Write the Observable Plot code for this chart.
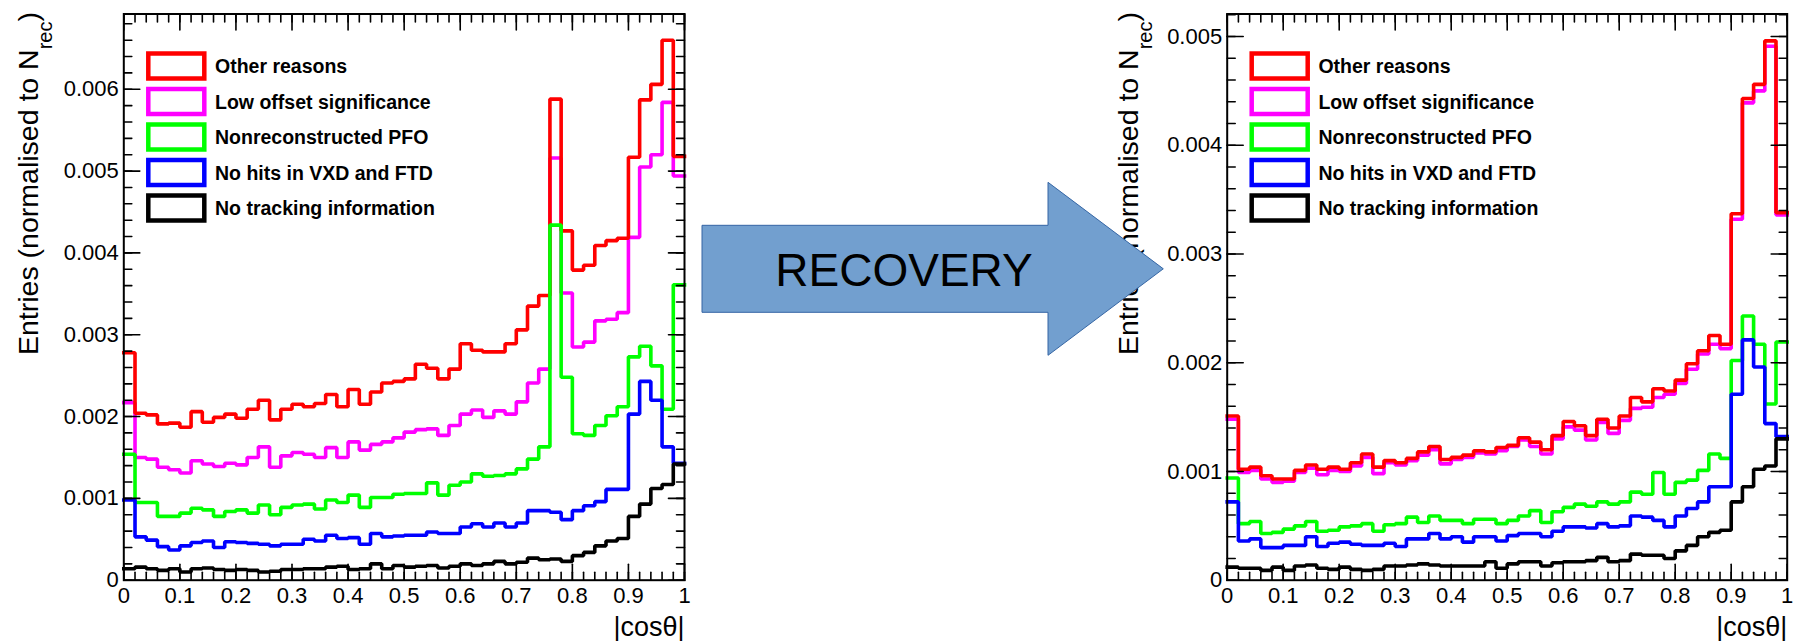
<!DOCTYPE html>
<html>
<head>
<meta charset="utf-8">
<script src="https://cdn.jsdelivr.net/npm/d3@7"></script>
<script src="https://cdn.jsdelivr.net/npm/@observablehq/plot@0.6"></script>
<style>
  html, body { margin: 0; padding: 0; background: #fff; }
  #page { position: relative; width: 1793px; height: 641px; overflow: hidden;
          font-family: "Liberation Sans", Arial, Helvetica, sans-serif; }
  .panel { position: absolute; top: 0; }
  #overlay { position: absolute; left: 0; top: 0; pointer-events: none; }
</style>
</head>
<body>
<div id="page">
  <div class="panel" id="before" style="left:0px"></div>
  <div class="panel" id="after" style="left:1100px"></div>
</div>
<script>
// |cosθ| binning: 50 bins of width 0.02
const binEdges = d3.range(51).map(i => i / 50);
const xTickValues = [0, 0.1, 0.2, 0.3, 0.4, 0.5, 0.6, 0.7, 0.8, 0.9, 1];

const seriesNames = ["Other reasons", "Low offset significance", "Nonreconstructed PFO",
                     "No hits in VXD and FTD", "No tracking information"];
const seriesColors = ["#ff0000", "#ff00ff", "#00ff00", "#0000ff", "#000000"];
// stacking order of the outlines (index into seriesNames)
const drawOrder = [1, 0, 2, 3, 4];

// ---- before recovery ----
const beforeOther = [0.00278,0.00204,0.00202,0.00191,0.00192,0.00187,0.00206,0.00193,0.00199,0.00203,
  0.00198,0.00209,0.00220,0.00196,0.00209,0.00215,0.00212,0.00216,0.00227,0.00212,
  0.00233,0.00215,0.00230,0.00241,0.00243,0.00246,0.00264,0.00259,0.00246,0.00258,
  0.00289,0.00281,0.00279,0.00279,0.00289,0.00306,0.00335,0.00348,0.00588,0.00427,
  0.00379,0.00385,0.00409,0.00415,0.00418,0.00517,0.00587,0.00606,0.00660,0.00518];
const beforeLowOffset = [0.00217,0.00150,0.00148,0.00138,0.00135,0.00131,0.00146,0.00142,0.00139,0.00143,
  0.00141,0.00150,0.00163,0.00138,0.00152,0.00156,0.00154,0.00150,0.00162,0.00150,
  0.00169,0.00159,0.00166,0.00169,0.00174,0.00181,0.00184,0.00185,0.00177,0.00189,
  0.00203,0.00208,0.00199,0.00207,0.00203,0.00218,0.00241,0.00258,0.00516,0.00351,
  0.00285,0.00291,0.00317,0.00319,0.00327,0.00419,0.00505,0.00520,0.00584,0.00494];
const beforeNonreco = [0.00154,0.00095,0.00095,0.00078,0.00078,0.00082,0.00088,0.00086,0.00078,0.00084,
  0.00086,0.00082,0.00092,0.00080,0.00089,0.00092,0.00093,0.00087,0.00098,0.00095,
  0.00104,0.00089,0.00101,0.00101,0.00105,0.00106,0.00106,0.00119,0.00104,0.00116,
  0.00120,0.00130,0.00127,0.00128,0.00130,0.00136,0.00148,0.00163,0.00434,0.00248,
  0.00179,0.00177,0.00189,0.00201,0.00212,0.00273,0.00286,0.00262,0.00209,0.00361];
const beforeNoHits = [0.00098,0.00053,0.00049,0.00041,0.00037,0.00042,0.00046,0.00048,0.00040,0.00047,
  0.00046,0.00045,0.00044,0.00042,0.00044,0.00044,0.00050,0.00048,0.00055,0.00051,
  0.00052,0.00044,0.00057,0.00053,0.00054,0.00055,0.00055,0.00059,0.00057,0.00057,
  0.00065,0.00069,0.00065,0.00070,0.00065,0.00070,0.00085,0.00085,0.00083,0.00074,
  0.00085,0.00091,0.00096,0.00111,0.00111,0.00203,0.00243,0.00220,0.00163,0.00143];
const beforeNoTrack = [0.00014,0.00016,0.00014,0.00012,0.00014,0.00010,0.00014,0.00015,0.00013,0.00012,
  0.00013,0.00012,0.00010,0.00011,0.00013,0.00013,0.00014,0.00014,0.00016,0.00017,
  0.00013,0.00014,0.00020,0.00014,0.00018,0.00016,0.00017,0.00018,0.00015,0.00017,
  0.00020,0.00018,0.00020,0.00023,0.00020,0.00022,0.00027,0.00025,0.00026,0.00023,
  0.00030,0.00034,0.00042,0.00048,0.00051,0.00078,0.00093,0.00112,0.00117,0.00142];

// ---- after recovery ----
const afterOther = [0.00151,0.00102,0.00104,0.00096,0.00093,0.00093,0.00101,0.00106,0.00102,0.00104,
  0.00102,0.00108,0.00116,0.00104,0.00110,0.00108,0.00112,0.00118,0.00123,0.00111,
  0.00113,0.00115,0.00119,0.00118,0.00122,0.00124,0.00131,0.00127,0.00120,0.00133,
  0.00146,0.00142,0.00133,0.00148,0.00140,0.00151,0.00168,0.00164,0.00176,0.00174,
  0.00184,0.00199,0.00211,0.00225,0.00217,0.00337,0.00443,0.00456,0.00496,0.00338];
const afterLowOffset = [0.00148,0.00099,0.00101,0.00093,0.00090,0.00091,0.00099,0.00103,0.00097,0.00101,
  0.00100,0.00105,0.00113,0.00098,0.00108,0.00106,0.00110,0.00115,0.00120,0.00107,
  0.00111,0.00113,0.00117,0.00116,0.00119,0.00123,0.00129,0.00123,0.00116,0.00130,
  0.00141,0.00138,0.00129,0.00145,0.00135,0.00147,0.00158,0.00159,0.00168,0.00171,
  0.00181,0.00194,0.00208,0.00217,0.00213,0.00332,0.00439,0.00450,0.00491,0.00336];
const afterNonreco = [0.00094,0.00052,0.00054,0.00043,0.00044,0.00047,0.00050,0.00054,0.00045,0.00046,
  0.00049,0.00050,0.00052,0.00045,0.00051,0.00052,0.00058,0.00053,0.00059,0.00055,
  0.00055,0.00052,0.00056,0.00056,0.00052,0.00055,0.00059,0.00064,0.00053,0.00063,
  0.00067,0.00070,0.00068,0.00072,0.00070,0.00072,0.00081,0.00079,0.00099,0.00079,
  0.00090,0.00092,0.00101,0.00116,0.00112,0.00202,0.00243,0.00217,0.00162,0.00219];
const afterNoHits = [0.00072,0.00036,0.00038,0.00030,0.00030,0.00032,0.00032,0.00040,0.00031,0.00034,
  0.00035,0.00033,0.00032,0.00032,0.00034,0.00031,0.00038,0.00038,0.00043,0.00038,
  0.00040,0.00035,0.00040,0.00040,0.00036,0.00041,0.00043,0.00043,0.00040,0.00045,
  0.00049,0.00049,0.00048,0.00052,0.00049,0.00050,0.00059,0.00058,0.00055,0.00049,
  0.00059,0.00066,0.00072,0.00086,0.00086,0.00171,0.00221,0.00196,0.00144,0.00132];
const afterNoTrack = [0.00012,0.00011,0.00011,0.00009,0.00012,0.00009,0.00013,0.00014,0.00011,0.00010,
  0.00012,0.00010,0.00009,0.00010,0.00013,0.00013,0.00014,0.00015,0.00014,0.00013,
  0.00013,0.00013,0.00013,0.00017,0.00011,0.00015,0.00017,0.00017,0.00013,0.00016,
  0.00017,0.00017,0.00018,0.00021,0.00017,0.00018,0.00024,0.00023,0.00023,0.00020,
  0.00027,0.00032,0.00040,0.00044,0.00046,0.00072,0.00086,0.00102,0.00105,0.00130];

// axis ranges and labelled ticks
const beforeYMax = 0.00692;
const afterYMax = 0.005207;
const beforeYTicks = [0, 0.001, 0.002, 0.003, 0.004, 0.005, 0.006];
const afterYTicks = [0, 0.001, 0.002, 0.003, 0.004, 0.005];
const yMinorStep = 0.0002;

const FONT = '"Liberation Sans", Arial, Helvetica, sans-serif';

// a plain stroke from the anchor point, used for inward frame ticks
const tickShape = { draw(context, l) { context.moveTo(0, 0); context.lineTo(0, -l); } };

// bin contents -> points at each lower edge, closed at |cosθ| = 1
function stepPoints(values) {
  return binEdges.map((e, i) => ({ x: e, y: values[Math.min(i, values.length - 1)] }));
}

function frameTicks(yMax) {
  const yMinor = d3.range(0, yMax, yMinorStep);
  const yMajor = d3.range(0, yMax, 0.001);
  const common = { anchor: "start", shape: tickShape, stroke: "black", strokeWidth: 1.6 };
  return [
    Plot.vector(yMinor, { ...common, x: 1e-9, y: d => d, length: 8, rotate: 90 }),
    Plot.vector(yMajor, { ...common, x: 1e-9, y: d => d, length: 16, rotate: 90 }),
    Plot.vector(yMinor, { ...common, x: 1, y: d => d, length: 8, rotate: -90 }),
    Plot.vector(yMajor, { ...common, x: 1, y: d => d, length: 16, rotate: -90 }),
    Plot.vector(binEdges, { ...common, x: d => d, y: 0, length: 8, rotate: 0 }),
    Plot.vector(xTickValues, { ...common, x: d => d, y: 0, length: 16, rotate: 0 }),
    Plot.vector(binEdges, { ...common, x: d => d, y: yMax, length: 8, rotate: 180 }),
    Plot.vector(xTickValues, { ...common, x: d => d, y: yMax, length: 16, rotate: 180 })
  ];
}

function histogramPanel({ series, yMax, yTicks, width, marginLeft, marginRight }) {
  const marginTop = 13.5, marginBottom = 61.3;
  const chart = Plot.plot({
    width, height: 641, marginTop, marginBottom, marginLeft, marginRight,
    x: { domain: [0, 1], axis: null },
    y: { domain: [0, yMax], axis: null },
    style: { fontFamily: FONT, fontSize: "22px", color: "black", background: "transparent", overflow: "visible" },
    marks: [
      ...drawOrder.map(k => Plot.line(stepPoints(series[k]), {
        x: "x", y: "y", curve: "step-after",
        stroke: seriesColors[k], strokeWidth: 3.6, strokeLinejoin: "miter", strokeLinecap: "square"
      })),
      Plot.frame({ stroke: "black", strokeWidth: 2 }),
      ...frameTicks(yMax),
      Plot.axisY(yTicks, { tickSize: 0, tickPadding: 5, fontSize: 22, label: null,
        tickFormat: d => d === 0 ? "0" : d.toFixed(3) }),
      Plot.axisX(xTickValues, { tickSize: 0, tickPadding: 7, fontSize: 22, label: null,
        tickFormat: d => (d === 0 || d === 1) ? String(d) : d.toFixed(1) }),
      Plot.text(["|cosθ|"], { text: d => d, frameAnchor: "bottom-right", textAnchor: "end",
        dy: 56, fontSize: 27 })
    ]
  });

  const svg = d3.select(chart);

  // vertical axis title with subscript
  const title = svg.append("text")
    .attr("transform", `translate(37.5,12) rotate(-90)`)
    .attr("text-anchor", "end")
    .attr("font-family", FONT)
    .attr("font-size", 28.5)
    .attr("fill", "black");
  title.append("tspan").text("Entries (normalised to N");
  title.append("tspan").attr("font-size", 20).attr("dy", 14).text("rec");
  title.append("tspan").attr("dy", -14).text(")");

  // legend
  const rowY = [66, 101.5, 137, 172.5, 208];
  const legend = svg.append("g").attr("font-family", FONT).attr("text-anchor", "start");
  seriesNames.forEach((name, i) => {
    legend.append("rect")
      .attr("x", marginLeft + 25).attr("y", rowY[i] - 12.5)
      .attr("width", 56).attr("height", 25)
      .attr("fill", "none").attr("stroke", seriesColors[i]).attr("stroke-width", 4.5);
    legend.append("text")
      .attr("x", marginLeft + 91.7).attr("y", rowY[i] + 7)
      .attr("text-anchor", "start")
      .attr("font-size", 19.5).attr("font-weight", "bold").attr("fill", "black")
      .text(name);
  });
  return chart;
}

document.getElementById("before").append(histogramPanel({
  series: [beforeOther, beforeLowOffset, beforeNonreco, beforeNoHits, beforeNoTrack],
  yMax: beforeYMax, yTicks: beforeYTicks, width: 700, marginLeft: 123.3, marginRight: 16
}));
document.getElementById("after").append(histogramPanel({
  series: [afterOther, afterLowOffset, afterNonreco, afterNoHits, afterNoTrack],
  yMax: afterYMax, yTicks: afterYTicks, width: 693, marginLeft: 126.7, marginRight: 6.3
}));

// "RECOVERY" block arrow between the two panels
const overlay = d3.select("#page").append("svg")
  .attr("id", "overlay").attr("width", 1793).attr("height", 641);
overlay.append("polygon")
  .attr("points", "702,225.3 1048,225.3 1048,182.3 1163.3,268.8 1048,355.3 1048,312.3 702,312.3")
  .attr("fill", "#729fcf").attr("stroke", "#3465a4").attr("stroke-width", 1);
overlay.append("text")
  .attr("x", 904).attr("y", 286)
  .attr("text-anchor", "middle")
  .attr("font-family", FONT).attr("font-size", 46).attr("fill", "black")
  .text("RECOVERY");
</script>
</body>
</html>
